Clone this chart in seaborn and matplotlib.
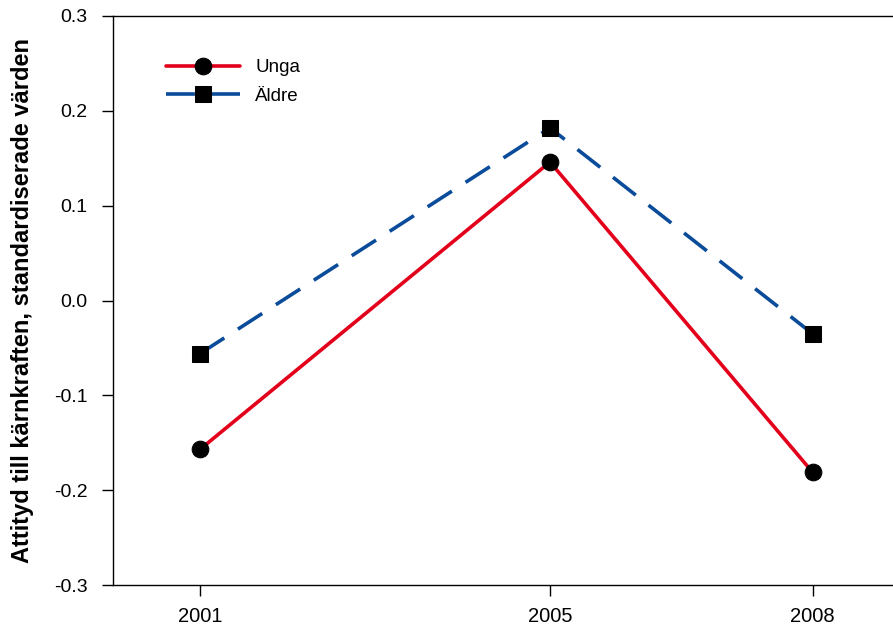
import numpy as np
import pandas as pd
import matplotlib
matplotlib.use("Agg")
import matplotlib.pyplot as plt
import seaborn as sns

sns.set_theme(style="white")
plt.rcParams['font.family'] = ['Liberation Sans', 'DejaVu Sans']
plt.rcParams['text.color'] = 'black'
plt.rcParams['axes.labelcolor'] = 'black'
plt.rcParams['xtick.color'] = 'black'
plt.rcParams['ytick.color'] = 'black'

# data
years = [2001, 2005, 2008]
unga = [-0.157, 0.146, -0.181]
aldre = [-0.056, 0.182, -0.035]

df = pd.DataFrame({
    "year": years * 2,
    "value": unga + aldre,
    "group": ["Unga"] * 3 + ["Äldre"] * 3,
})

fig = plt.figure(figsize=(8.93, 6.30), dpi=100)
W, H = 893, 630
# axes in pixel coords: left 112.5, right 900 (cut off), top 16, bottom 585
ax = fig.add_axes([112.5 / W, 1 - 585 / H, (900 - 112.5) / W, (585 - 16) / H])

sns.lineplot(data=df[df.group == "Unga"], x="year", y="value", ax=ax,
             color="#e3001b", lw=2.6, marker="o", markersize=12,
             markerfacecolor="black", markeredgecolor="black", label="Unga")
sns.lineplot(data=df[df.group == "Äldre"], x="year", y="value", ax=ax,
             color="#0a4c9a", lw=2.6, marker="s", markersize=11.5,
             markerfacecolor="black", markeredgecolor="black",
             label="Äldre")
ax.lines[1].set_dashes([8, 4.5])

ax.set_xlim(2000, 2009)
ax.set_ylim(-0.3, 0.3)
ax.set_xticks(years)
ax.set_yticks(np.arange(-0.3, 0.31, 0.1))
ax.set_yticklabels([f"{v:.1f}" for v in np.arange(-0.3, 0.31, 0.1)])
ax.set_xlabel("")
ax.set_ylabel("Attityd till kärnkraften, standardiserade värden",
              fontsize=17, fontweight="bold", labelpad=14, color="black")

for s in ["left", "bottom", "top"]:
    ax.spines[s].set_color("black")
    ax.spines[s].set_linewidth(1.0)
ax.spines["right"].set_visible(False)
ax.tick_params(axis="y", direction="out", length=8, width=1, color="black",
               labelcolor="black", labelsize=14, pad=10, left=True)
ax.tick_params(axis="x", direction="out", length=8, width=1, color="black",
               labelcolor="black", labelsize=14.5, pad=8, bottom=True)
for t in ax.get_xticklabels():
    t.set_fontstretch("condensed")
ax.grid(False)

leg = ax.legend(loc="upper left", bbox_to_anchor=(0.047, 0.9535), frameon=False,
                fontsize=13.5, handlelength=3.9, handletextpad=0.85,
                labelspacing=0.6)
for t in leg.get_texts():
    t.set_color("black")

fig.savefig("out.png", dpi=100)
